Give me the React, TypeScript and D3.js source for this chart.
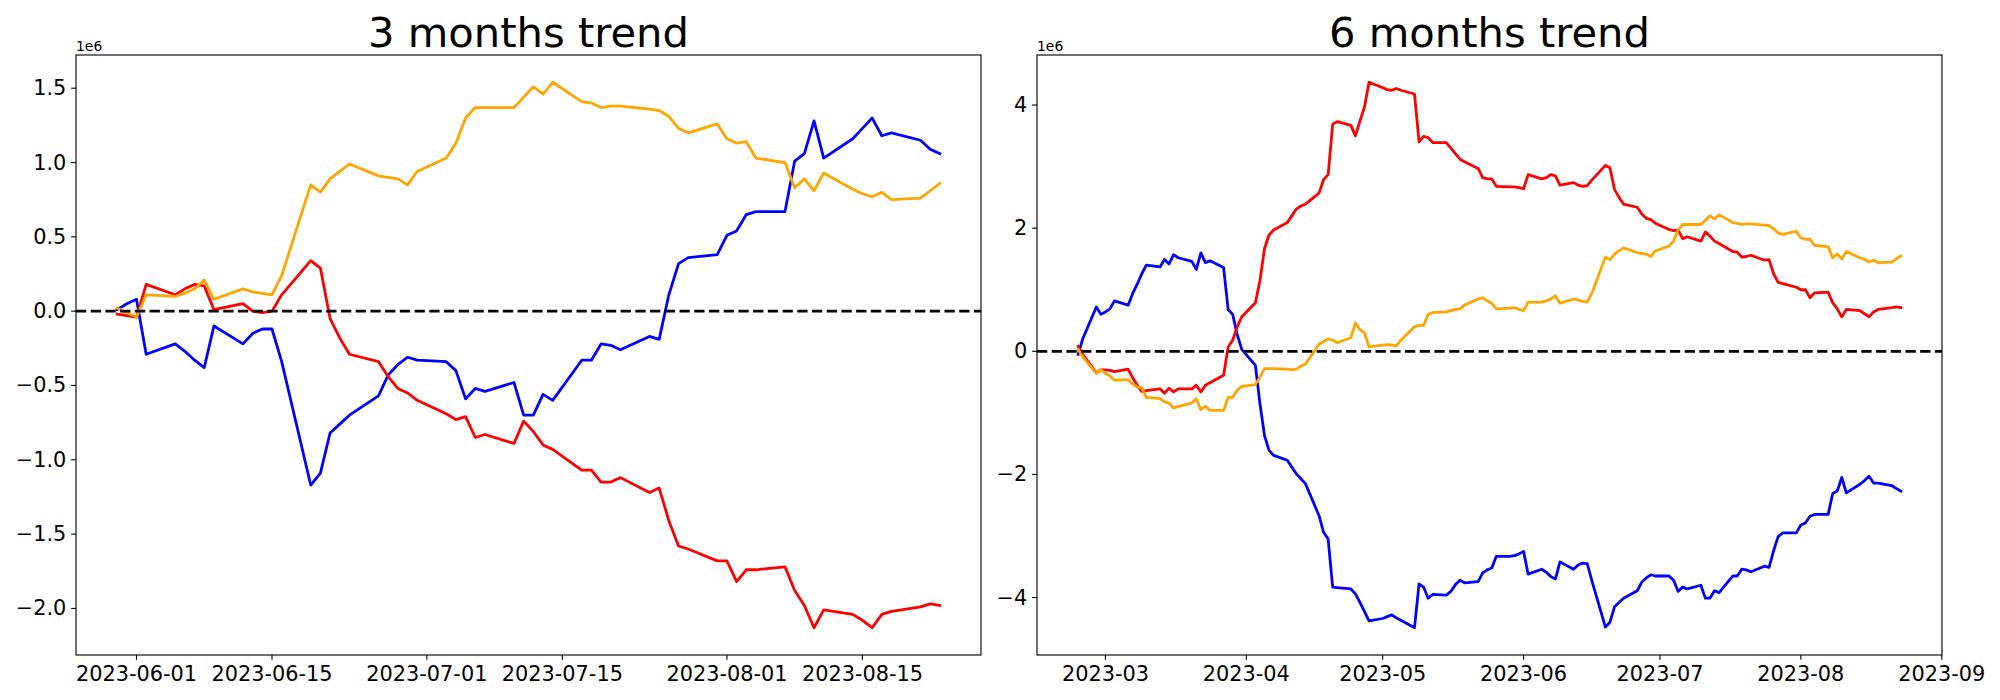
import React from 'react';
import * as d3 from 'd3';

// values are in units of 1e6 (the axis shows a "1e6" offset label)
const BLUE_3M = [
  0.01, 0.05, 0.08, -0.29,
  -0.22, -0.27, -0.33, -0.38, -0.10,
  -0.22, -0.15, -0.12, -0.12, -0.34,
  -1.17, -1.09, -0.82, -0.76, -0.70,
  -0.57, -0.43, -0.36, -0.31, -0.33,
  -0.34, -0.40, -0.59, -0.52, -0.54,
  -0.48, -0.70, -0.70, -0.56, -0.60,
  -0.33, -0.33, -0.22, -0.23, -0.26,
  -0.17, -0.19, 0.11, 0.32, 0.36,
  0.38, 0.51, 0.54, 0.65, 0.67,
  0.67, 1.01, 1.06, 1.28, 1.03,
  1.16, 1.23, 1.30, 1.18, 1.20,
  1.15, 1.09, 1.06,
];
const RED_3M = [
  -0.02, -0.03, -0.04, 0.18,
  0.11, 0.15, 0.18, 0.17, 0.01,
  0.05, 0.00, -0.01, 0.00, 0.11,
  0.34, 0.29, -0.05, -0.18, -0.29,
  -0.34, -0.44, -0.52, -0.55, -0.60,
  -0.69, -0.73, -0.71, -0.85, -0.83,
  -0.89, -0.74, -0.81, -0.90, -0.93,
  -1.07, -1.07, -1.15, -1.15, -1.12,
  -1.22, -1.19, -1.41, -1.58, -1.60,
  -1.68, -1.68, -1.82, -1.74, -1.74,
  -1.72, -1.88, -1.98, -2.13, -2.01,
  -2.04, -2.08, -2.13, -2.04, -2.02,
  -1.99, -1.97, -1.98,
];
const ORANGE_3M = [
  0.02, -0.01, -0.04, 0.11,
  0.10, 0.12, 0.15, 0.21, 0.08,
  0.15, 0.13, 0.12, 0.11, 0.24,
  0.85, 0.80, 0.89, 0.94, 0.99,
  0.91, 0.90, 0.89, 0.85, 0.94,
  1.03, 1.13, 1.30, 1.37, 1.37,
  1.37, 1.44, 1.51, 1.46, 1.54,
  1.41, 1.40, 1.37, 1.38, 1.38,
  1.36, 1.35, 1.31, 1.23, 1.20,
  1.26, 1.16, 1.13, 1.14, 1.03,
  1.00, 0.83, 0.89, 0.81, 0.93,
  0.82, 0.79, 0.77, 0.80, 0.75,
  0.76, 0.81, 0.86,
];

const BLUE_6M = [
  -0.05, 0.20, 0.72, 0.60,
  0.64, 0.69, 0.82,
  0.75, 0.94, 1.09, 1.26, 1.40,
  1.37, 1.49, 1.42, 1.57, 1.52,
  1.46, 1.33, 1.60, 1.44, 1.47,
  1.36, 0.68, 0.60, 0.27, 0.03,
  -0.23, -0.85, -1.37, -1.61, -1.69,
  -1.77, -1.88, -1.99, -2.07, -2.15,
  -2.67, -2.94, -3.05, -3.83, -3.84,
  -3.86, -3.94, -4.08, -4.23, -4.38,
  -4.34, -4.31, -4.28, -4.33, -4.37,
  -4.49, -3.78, -3.83, -4.01, -3.95,
  -3.96, -3.90, -3.79, -3.72, -3.76,
  -3.74, -3.60, -3.55, -3.52, -3.33,
  -3.33, -3.32, -3.29, -3.25, -3.62,
  -3.54, -3.59, -3.66, -3.70, -3.42,
  -3.54, -3.47, -3.44, -3.45, -3.72,
  -4.48, -4.40, -4.15, -4.08, -4.01,
  -3.89, -3.75, -3.68, -3.63, -3.65,
  -3.65, -3.72, -3.90, -3.83, -3.86,
  -3.80, -4.01, -4.01, -3.89, -3.92,
  -3.65, -3.65, -3.54, -3.55, -3.58,
  -3.49, -3.51, -3.24, -3.01, -2.95,
  -2.95, -2.82, -2.79, -2.68, -2.65,
  -2.65, -2.31, -2.27, -2.05, -2.30,
  -2.16, -2.10, -2.03, -2.14, -2.14,
  -2.18, -2.23, -2.27,
];
const RED_6M = [
  0.08, -0.05, -0.35, -0.30,
  -0.30, -0.31, -0.33,
  -0.29, -0.43, -0.55, -0.65, -0.64,
  -0.61, -0.68, -0.60, -0.66, -0.61,
  -0.61, -0.55, -0.66, -0.55, -0.51,
  -0.39, 0.07, 0.18, 0.40, 0.56,
  0.79, 1.15, 1.67, 1.89, 1.97,
  2.09, 2.20, 2.31, 2.36, 2.39,
  2.57, 2.79, 2.87, 3.69, 3.73,
  3.67, 3.50, 3.74, 3.97, 4.37,
  4.28, 4.25, 4.24, 4.27, 4.24,
  4.18, 3.40, 3.49, 3.47, 3.39,
  3.39, 3.30, 3.21, 3.12, 3.08,
  2.97, 2.82, 2.80, 2.80, 2.68,
  2.67, 2.67, 2.66, 2.64, 2.87,
  2.80, 2.82, 2.87, 2.85, 2.70,
  2.74, 2.70, 2.68, 2.69, 2.78,
  3.02, 2.98, 2.63, 2.50, 2.39,
  2.34, 2.23, 2.16, 2.14, 2.08,
  1.98, 1.96, 1.97, 1.83, 1.86,
  1.79, 1.94, 1.87, 1.79, 1.75,
  1.62, 1.61, 1.53, 1.54, 1.56,
  1.48, 1.49, 1.26, 1.12, 1.10,
  1.04, 1.00, 1.00, 0.87, 0.95,
  0.96, 0.79, 0.69, 0.56, 0.68,
  0.66, 0.61, 0.56, 0.64, 0.68,
  0.71, 0.72, 0.71,
];
const ORANGE_6M = [
  0.03, -0.09, -0.36, -0.30,
  -0.36, -0.40, -0.47,
  -0.46, -0.53, -0.58, -0.59, -0.75,
  -0.77, -0.82, -0.84, -0.92, -0.90,
  -0.84, -0.77, -0.95, -0.89, -0.96,
  -0.96, -0.75, -0.75, -0.63, -0.57,
  -0.54, -0.42, -0.28, -0.28, -0.28,
  -0.29, -0.30, -0.29, -0.24, -0.21,
  0.12, 0.16, 0.20, 0.18, 0.14,
  0.22, 0.46, 0.35, 0.30, 0.07,
  0.10, 0.11, 0.10, 0.09, 0.18,
  0.40, 0.42, 0.42, 0.60, 0.63,
  0.64, 0.66, 0.68, 0.69, 0.75,
  0.85, 0.87, 0.82, 0.78, 0.69,
  0.70, 0.71, 0.68, 0.66, 0.80,
  0.80, 0.82, 0.85, 0.90, 0.78,
  0.85, 0.83, 0.81, 0.80, 0.94,
  1.53, 1.49, 1.58, 1.63, 1.68,
  1.60, 1.59, 1.58, 1.54, 1.63,
  1.71, 1.79, 1.97, 2.06, 2.06,
  2.06, 2.13, 2.20, 2.15, 2.22,
  2.09, 2.08, 2.06, 2.07, 2.07,
  2.05, 2.04, 1.99, 1.92, 1.90,
  1.95, 1.84, 1.82, 1.82, 1.72,
  1.70, 1.52, 1.58, 1.50, 1.62,
  1.52, 1.49, 1.45, 1.48, 1.44,
  1.45, 1.50, 1.55,
];

// trading days (weekdays) covered by each panel
const RANGE_3M = ['2023-05-30', '2023-08-23'];
const RANGE_6M = ['2023-02-23', '2023-08-23'];

const X_TICKS_3M = ['2023-06-01', '2023-06-15', '2023-07-01', '2023-07-15', '2023-08-01', '2023-08-15'];
const X_TICKS_6M = ['2023-03-01', '2023-04-01', '2023-05-01', '2023-06-01', '2023-07-01', '2023-08-01', '2023-09-01'];
const Y_TICKS_3M = [-2, -1.5, -1, -0.5, 0, 0.5, 1, 1.5];
const Y_TICKS_6M = [-4, -2, 0, 2, 4];

const FONT = 'DejaVu Sans, sans-serif';
const TICK_FS = 20.83;
const LW = 2.78;
const TICK_LEN = 4.86;

const parse = d3.utcParse('%Y-%m-%d');

function weekdays(range: string[]) {
  const a = parse(range[0])!;
  const b = parse(range[1])!;
  return d3.utcDay.range(a, d3.utcDay.offset(b, 1)).filter((d) => d.getUTCDay() !== 0 && d.getUTCDay() !== 6);
}

const minus = (s: string) => s.replace('-', '\u2212');

interface PanelProps {
  left: number;
  right: number;
  top: number;
  bottom: number;
  title: string;
  dates: Date[];
  series: { values: number[]; color: string }[];
  xTicks: string[];
  xFmt: (d: Date) => string;
  yTicks: number[];
  yFmt: (v: number) => string;
}

const Panel = (p: PanelProps) => {
  const t0 = p.dates[0].getTime();
  const t1 = p.dates[p.dates.length - 1].getTime();
  const tp = (t1 - t0) * 0.05;
  const x = d3.scaleUtc().domain([new Date(t0 - tp), new Date(t1 + tp)]).range([p.left, p.right]);

  const all = p.series.flatMap((s) => s.values);
  const lo = d3.min(all)!;
  const hi = d3.max(all)!;
  const vp = (hi - lo) * 0.05;
  const y = d3.scaleLinear().domain([lo - vp, hi + vp]).range([p.bottom, p.top]);

  const line = d3
    .line<number>()
    .x((_, i) => x(p.dates[i]))
    .y((v) => y(v));

  const cx = (p.left + p.right) / 2;

  return (
    <g>
      <defs>
        <clipPath id={'clip-' + p.left}>
          <rect x={p.left} y={p.top} width={p.right - p.left} height={p.bottom - p.top} />
        </clipPath>
      </defs>
      <g clipPath={`url(#clip-${p.left})`}>
        {p.series.map((s) => (
          <path
            key={s.color}
            d={line(s.values) || ''}
            fill="none"
            stroke={s.color}
            strokeWidth={LW}
            strokeLinejoin="round"
            strokeLinecap="square"
          />
        ))}
        <line
          x1={p.left}
          x2={p.right}
          y1={y(0)}
          y2={y(0)}
          stroke="black"
          strokeWidth={LW}
          strokeDasharray="10.28 4.44"
        />
      </g>
      {/* frame */}
      <rect
        x={p.left}
        y={p.top}
        width={p.right - p.left}
        height={p.bottom - p.top}
        fill="none"
        stroke="black"
        strokeWidth={1.11}
      />
      {/* x axis ticks */}
      {p.xTicks.map((t) => {
        const d = parse(t)!;
        const px = x(d);
        return (
          <g key={t}>
            <line x1={px} x2={px} y1={p.bottom} y2={p.bottom + TICK_LEN} stroke="black" strokeWidth={1.11} />
            <text x={px} y={p.bottom + 26} textAnchor="middle" fontFamily={FONT} fontSize={TICK_FS}>
              {p.xFmt(d)}
            </text>
          </g>
        );
      })}
      {/* y axis ticks */}
      {p.yTicks.map((v) => {
        const py = y(v);
        return (
          <g key={v}>
            <line x1={p.left - TICK_LEN} x2={p.left} y1={py} y2={py} stroke="black" strokeWidth={1.11} />
            <text
              x={p.left - 9.7}
              y={py}
              textAnchor="end"
              dominantBaseline="central"
              fontFamily={FONT}
              fontSize={TICK_FS}
            >
              {p.yFmt(v)}
            </text>
          </g>
        );
      })}
      <text x={p.left} y={p.top - 4} fontFamily={FONT} fontSize={13.9}>
        1e6
      </text>
      <text x={cx} y={p.top - 8.3} textAnchor="middle" fontFamily={FONT} fontSize={41.67}>
        {p.title}
      </text>
    </g>
  );
};

export default function App() {
  const dates3 = weekdays(RANGE_3M);
  const dates6 = weekdays(RANGE_6M);
  const fmt1 = d3.format('.1f');
  const fmt0 = d3.format('d');

  return (
    <svg
      width={2000}
      height={700}
      viewBox="0 0 2000 700"
      style={{ position: 'absolute', left: 0, top: 0, background: 'white' }}
    >
      <rect width={2000} height={700} fill="white" />
      <Panel
        left={76}
        right={981}
        top={55}
        bottom={655}
        title="3 months trend"
        dates={dates3}
        series={[
          { values: BLUE_3M, color: 'blue' },
          { values: RED_3M, color: 'red' },
          { values: ORANGE_3M, color: 'orange' },
        ]}
        xTicks={X_TICKS_3M}
        xFmt={d3.utcFormat('%Y-%m-%d')}
        yTicks={Y_TICKS_3M}
        yFmt={(v) => minus(fmt1(v))}
      />
      <Panel
        left={1037}
        right={1942}
        top={55}
        bottom={655}
        title="6 months trend"
        dates={dates6}
        series={[
          { values: BLUE_6M, color: 'blue' },
          { values: RED_6M, color: 'red' },
          { values: ORANGE_6M, color: 'orange' },
        ]}
        xTicks={X_TICKS_6M}
        xFmt={d3.utcFormat('%Y-%m')}
        yTicks={Y_TICKS_6M}
        yFmt={(v) => minus(fmt0(v))}
      />
    </svg>
  );
}
